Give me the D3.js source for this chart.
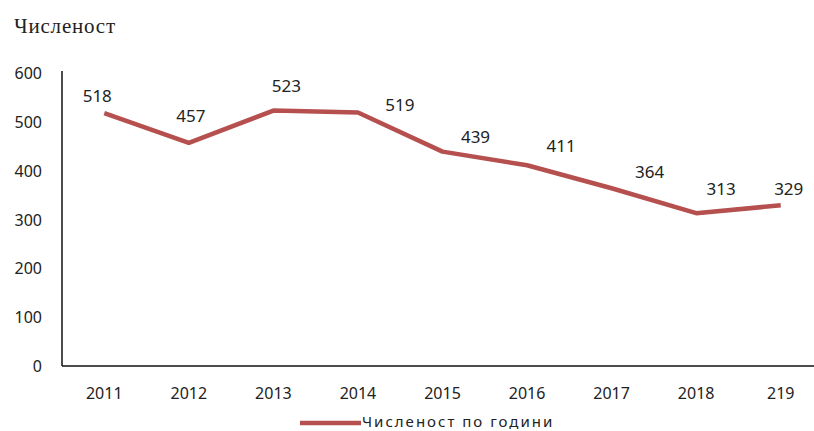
<!DOCTYPE html>
<html>
<head>
<meta charset="utf-8">
<script src="https://d3js.org/d3.v7.min.js"></script>
<style>
  body { margin: 0; background: #fff; }
  text { font-family: "Noto Sans", sans-serif; fill: #222; }
</style>
</head>
<body>
<svg id="chart" width="814" height="431"></svg>
<script>
// data
var years = ["2011", "2012", "2013", "2014", "2015", "2016", "2017", "2018", "219"];
var counts = [518, 457, 523, 519, 439, 411, 364, 313, 329];
var yTicks = [0, 100, 200, 300, 400, 500, 600];
// label nudges so numbers sit where the original put them
var labelDx = [-7, 2, 13, 42, 33, 34, 38, 25, 8];
var labelDy = [-11, -21, -19, -2, -9, -13, -10, -18, -10];

var svg = d3.select("#chart");
var plotL = 62, plotR = 823, plotT = 73, plotB = 366;

var x = d3.scaleBand().domain(years).range([plotL, plotR]);
var y = d3.scaleLinear().domain([0, 600]).range([plotB, plotT]);

// title
svg.append("text")
    .attr("x", 14).attr("y", 33)
    .style("font-family", "'Liberation Serif', serif")
    .style("font-size", "21px")
    .style("letter-spacing", "0.8px")
    .text("Численост");

// axes, no tick marks just the lines
svg.append("line").attr("x1", plotL).attr("x2", plotL).attr("y1", plotT - 2).attr("y2", plotB)
    .attr("stroke", "#111").attr("stroke-width", 1.5);
svg.append("line").attr("x1", plotL).attr("x2", 814).attr("y1", plotB).attr("y2", plotB)
    .attr("stroke", "#111").attr("stroke-width", 1.5);

svg.selectAll(".ytick").data(yTicks).enter().append("text")
    .attr("class", "ytick")
    .attr("x", 42).attr("y", function(d) { return y(d) + 6; })
    .style("text-anchor", "end").style("font-size", "16px")
    .text(function(d) { return d; });

svg.selectAll(".xtick").data(years).enter().append("text")
    .attr("class", "xtick")
    .attr("x", function(d) { return x(d) + x.bandwidth() / 2; })
    .attr("y", 399)
    .style("text-anchor", "middle").style("font-size", "16px")
    .text(function(d) { return d; });

// the series
var pts = years.map(function(d, i) { return { year: d, v: counts[i], i: i }; });
var line = d3.line()
    .x(function(d) { return x(d.year) + x.bandwidth() / 2; })
    .y(function(d) { return y(d.v); });

svg.append("path").datum(pts)
    .attr("d", line)
    .attr("fill", "none")
    .attr("stroke", "#b5504f")
    .attr("stroke-width", 4.5)
    .attr("stroke-linejoin", "round");

svg.selectAll(".lbl").data(pts).enter().append("text")
    .attr("class", "lbl")
    .attr("x", function(d) { return x(d.year) + x.bandwidth() / 2 + labelDx[d.i]; })
    .attr("y", function(d) { return y(d.v) + labelDy[d.i]; })
    .style("text-anchor", "middle").style("font-size", "17px")
    .text(function(d) { return d.v; });

// legend
svg.append("line").attr("x1", 300).attr("x2", 361).attr("y1", 423).attr("y2", 423)
    .attr("stroke", "#b5504f").attr("stroke-width", 4.5);
svg.append("text").attr("x", 362).attr("y", 427)
    .style("font-size", "15px")
    .style("letter-spacing", "2px")
    .text("Численост по години");
</script>
</body>
</html>
